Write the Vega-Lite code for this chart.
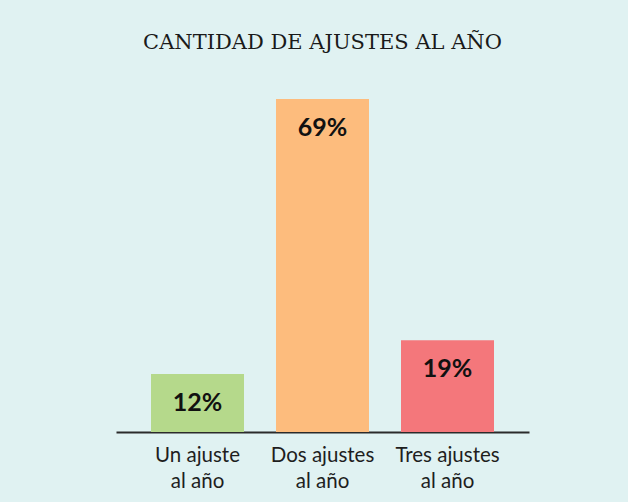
{
  "$schema": "https://vega.github.io/schema/vega-lite/v6.json",
  "width": 413,
  "height": 333,
  "autosize": {"type": "none"},
  "padding": {"left": 116, "top": 99, "right": 99, "bottom": 70},
  "background": "#e0f2f2",
  "title": {
    "text": "CANTIDAD DE AJUSTES AL AÑO",
    "font": "DejaVu Serif",
    "fontSize": 21,
    "fontWeight": "normal",
    "color": "#1a1a1a",
    "anchor": "middle",
    "offset": 46
  },
  "data": {
    "values": [
      {"cat": "Un ajuste al año", "pct": 12, "label": "12%", "color": "#b5d98b"},
      {"cat": "Dos ajustes al año", "pct": 69, "label": "69%", "color": "#fdbc7d"},
      {"cat": "Tres ajustes al año", "pct": 19, "label": "19%", "color": "#f4777b"}
    ]
  },
  "encoding": {
    "x": {
      "field": "cat",
      "type": "nominal",
      "sort": null,
      "scale": {"paddingInner": 0.256, "paddingOuter": 0.28},
      "axis": {
        "title": null,
        "labelAngle": 0,
        "ticks": false,
        "domainColor": "#2b2b2b",
        "domainWidth": 2,
        "labelFont": "Lato",
        "labelFontSize": 20.5,
        "labelColor": "#1e1e1e",
        "labelPadding": 13,
        "labelLineHeight": 26,
        "labelExpr": "[replace(datum.label, ' al año', ''), 'al año']"
      }
    },
    "y": {
      "field": "pct",
      "type": "quantitative",
      "scale": {"domain": [0, 69], "nice": false},
      "axis": null
    }
  },
  "layer": [
    {
      "mark": {"type": "bar"},
      "encoding": {
        "color": {"field": "color", "type": "nominal", "scale": null}
      }
    },
    {
      "mark": {
        "type": "text",
        "baseline": "middle",
        "dy": 29,
        "font": "Lato",
        "fontSize": 25,
        "fontWeight": "bold",
        "color": "#111111"
      },
      "encoding": {
        "text": {"field": "label"}
      }
    }
  ],
  "config": {"view": {"stroke": null}}
}
